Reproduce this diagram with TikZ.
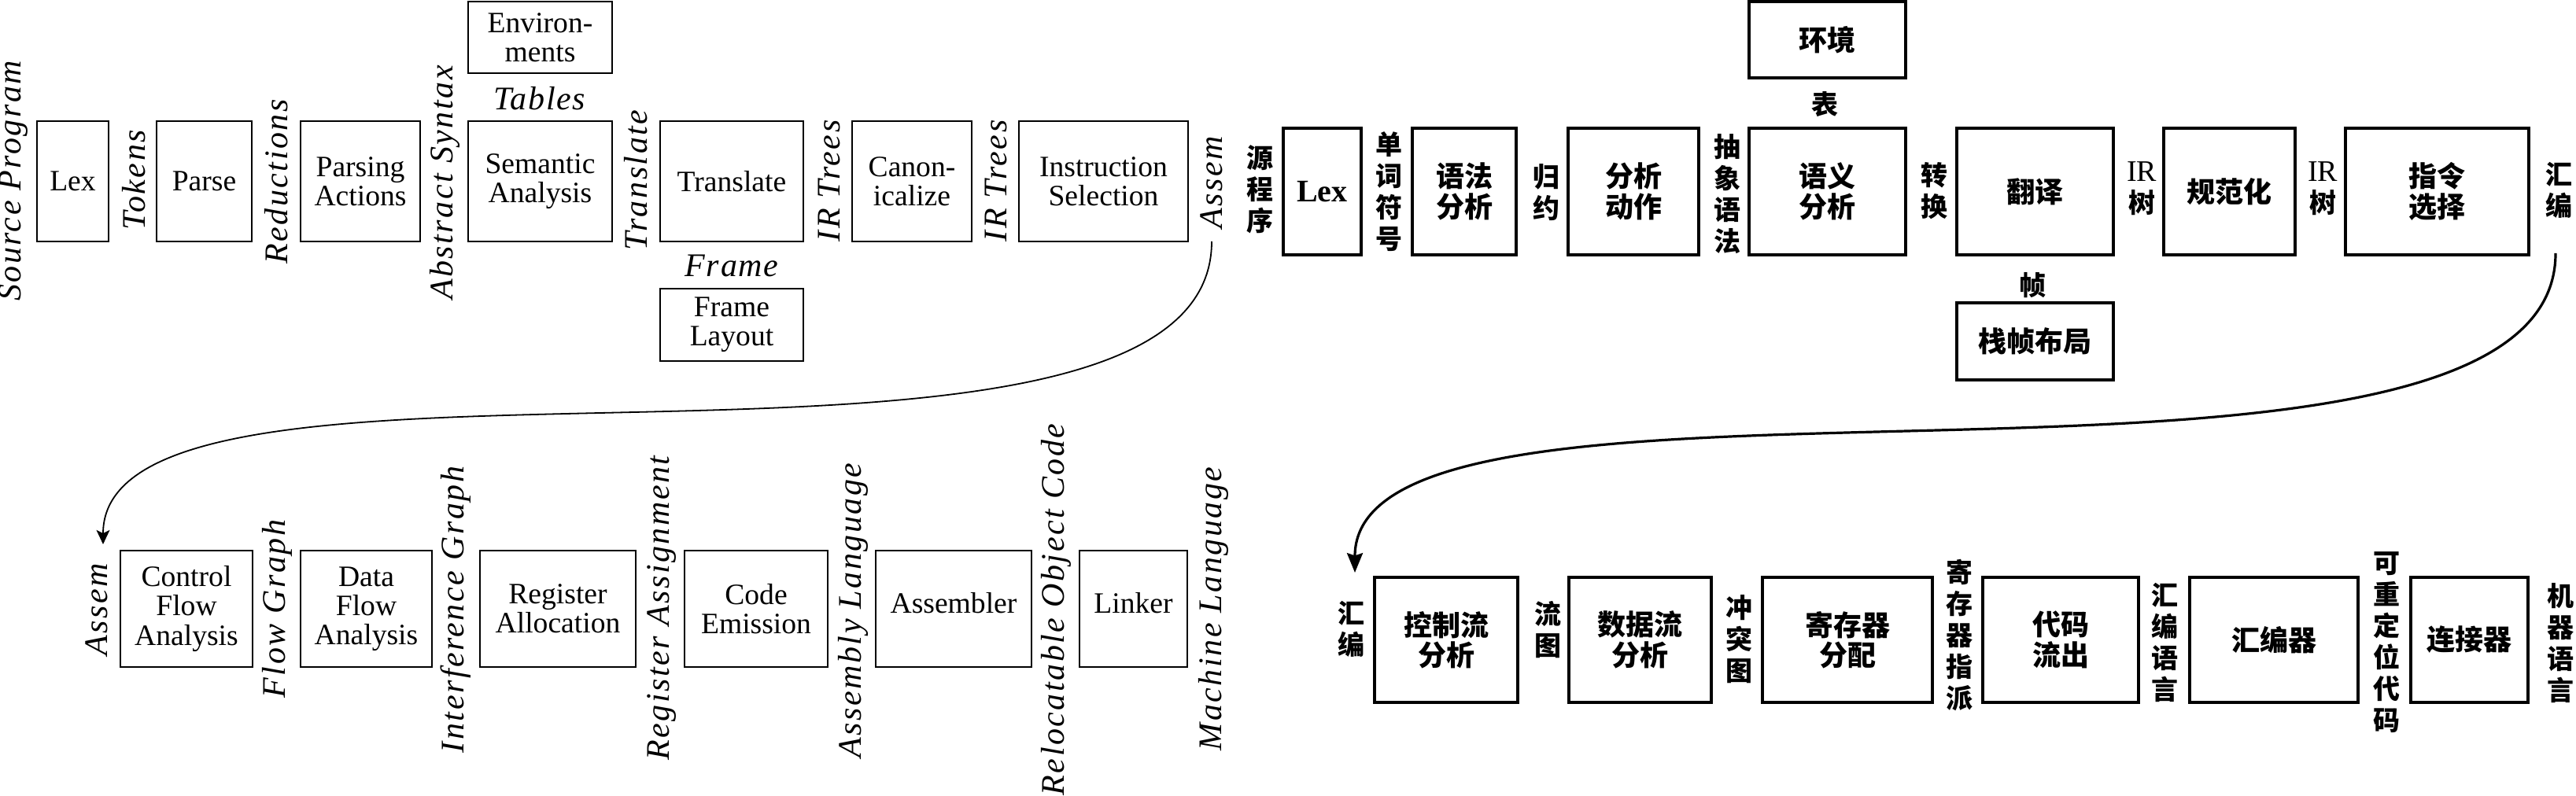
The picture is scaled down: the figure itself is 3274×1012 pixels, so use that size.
\documentclass[tikz,border=0pt]{standalone}
\usepackage{fontspec}
\setmainfont{Liberation Serif}
\newfontfamily\lblfont{Liberation Serif}[LetterSpace=6.0]
\newfontfamily\hlblfont{Liberation Serif}[LetterSpace=4.0]
\newfontfamily\cjk{Noto Sans CJK SC}
\usetikzlibrary{arrows.meta}
\begin{document}
\begin{tikzpicture}[x=0.25pt,y=-0.25pt,
  ebox/.style={draw, line width=0.45pt, align=center, inner sep=0pt, font=\fontsize{9.4}{9.3}\selectfont},
  cbox/.style={draw, line width=0.8pt, align=center, inner sep=0pt, font=\fontsize{9}{9.6}\selectfont\cjk\bfseries},
  elab/.style={rotate=90, inner sep=0pt, font=\fontsize{10.5}{12}\selectfont\lblfont\itshape},
  ehl/.style={inner sep=0pt, font=\fontsize{10.5}{12}\selectfont\hlblfont\itshape},
  clab/.style={inner sep=0pt, align=center, font=\fontsize{8.5}{10}\selectfont\cjk\bfseries},
  irtext/.style={font=\fontsize{9.5}{10}\selectfont\rmfamily},
  sz/.style 2 args={minimum width=#1*0.25pt, minimum height=#2*0.25pt},
  upshift/.style={text depth=4pt},
  ecurve/.style={line width=0.45pt, -{Stealth[length=4.5pt,width=4.2pt,inset=1pt]}},
  ccurve/.style={line width=0.8pt, -{Stealth[length=6.2pt,width=5pt,inset=0.8pt]}},
]
\useasboundingbox (0,0) rectangle (3274,1012);

% ---------------- English, row 1 ----------------
\node[ebox, sz={91}{153}]  (lex)   at (92.5,230.5)  {Lex};
\node[ebox, sz={121}{153}] (parse) at (259.5,230.5) {Parse};
\node[ebox, sz={152}{153}] (pact)  at (458,230.5)   {Parsing\\Actions};
\node[ebox, sz={183}{153}] (sem)   at (686.5,230.5) {Semantic\\Analysis};
\node[ebox, sz={183}{91}]  (env)   at (686.5,47.5)  {Environ-\\ments};
\node[ebox, sz={182}{153}] (trans) at (930,230.5)   {Translate};
\node[ebox, sz={182}{92}]  (flay)  at (930,413)     {Frame\\Layout};
\node[ebox, sz={152}{153}] (canon) at (1159,230.5)  {Canon-\\icalize};
\node[ebox, sz={215}{153}] (isel)  at (1402.5,230.5){Instruction\\Selection};

\node[elab] (lsrc)  at (17,230)   {Source Program};
\node[elab] (ltok)  at (170,229)  {Tokens};
\node[elab] (lred)  at (351,231)  {Reductions};
\node[elab] (labs)  at (565,232)  {Abstract Syntax};
\node[elab] (ltr)   at (808,229)  {Translate};
\node[elab] (lir1)  at (1054,230) {IR Trees};
\node[elab] (lir2)  at (1266,230) {IR Trees};
\node[elab] (lasmA) at (1540,232) {Assem};
\node[ehl]  (ltab)  at (686,125)  {Tables};
\node[ehl]  (lfrm)  at (930,338)  {Frame};

% ---------------- English, row 2 ----------------
\node[ebox, sz={168}{148}] (cfa)    at (237,774)    {Control\\Flow\\Analysis};
\node[ebox, sz={167}{148}] (dfa)    at (465.5,774)  {Data\\Flow\\Analysis};
\node[ebox, sz={198}{148}] (ralloc) at (709,774)    {Register\\Allocation};
\node[ebox, sz={182}{148}] (cemit)  at (961,774)    {Code\\Emission};
\node[ebox, upshift, sz={198}{148}] (asm)  at (1212,774)   {Assembler};
\node[ebox, upshift, sz={137}{148}] (link) at (1440.5,774) {Linker};

\node[elab] (lasmB) at (123,775)  {Assem};
\node[elab] (lfg)   at (352,774)  {Flow Graph};
\node[elab] (lig)   at (579,775)  {Interference Graph};
\node[elab] (lra)   at (841,773)  {Register Assignment};
\node[elab] (lal)   at (1084,776) {Assembly Language};
\node[elab] (loc)   at (1342,775) {Relocatable Object Code};
\node[elab] (lml)   at (1542,774) {Machine Language};

\coordinate (ea) at (1540,307);
\coordinate (eb) at (131,692);
\draw[ecurve] (ea) .. controls (1540,685) and (131,382) .. (eb);

% ---------------- Chinese, row 1 ----------------
\node[cbox, sz={99}{161}]  (clex)   at (1680.5,243.5) {\rmfamily\bfseries\fontsize{10}{12}\selectfont Lex};
\node[cbox, sz={132}{161}] (cparse) at (1861,243.5)   {语法\\分析};
\node[cbox, sz={166}{161}] (cpact)  at (2076,243.5)   {分析\\动作};
\node[cbox, sz={199}{161}] (csem)   at (2322.5,243.5) {语义\\分析};
\node[cbox, sz={199}{97}]  (cenv)   at (2322.5,50.5)  {环境};
\node[cbox, sz={199}{161}] (ctrans) at (2586.5,243.5) {翻译};
\node[cbox, sz={199}{98}]  (cflay)  at (2586.5,434)   {栈帧布局};
\node[cbox, sz={167}{161}] (ccanon) at (2833.5,243.5) {规范化};
\node[cbox, sz={233}{161}] (cisel)  at (3097.5,243.5) {指令\\选择};

\node[clab] (csrc) at (1601,241) {源\\程\\序};
\node[clab] (ctok) at (1765,244) {单\\词\\符\\号};
\node[clab] (cred) at (1965,245) {归\\约};
\node[clab] (cabs) at (2195,247) {抽\\象\\语\\法};
\node[clab] (ctr)  at (2458,243) {转\\换};
\node[clab] (cir1) at (2722,240) {{\fontsize{9.5}{10}\selectfont\rmfamily\mdseries IR}\\树};
\node[clab] (cir2) at (2952,240) {{\fontsize{9.5}{10}\selectfont\rmfamily\mdseries IR}\\树};
\node[clab] (casmA) at (3252,242) {汇\\编};
\node[clab] (ctab) at (2319,133) {表};
\node[clab] (cfrm) at (2583,363) {帧};

% ---------------- Chinese, row 2 ----------------
\node[cbox, sz={182}{159}] (ccfa)    at (1838,813.5)   {控制流\\分析};
\node[cbox, sz={181}{159}] (cdfa)    at (2084.5,813.5) {数据流\\分析};
\node[cbox, sz={216}{159}] (cralloc) at (2348,813.5)   {寄存器\\分配};
\node[cbox, sz={198}{159}] (ccemit)  at (2619,813.5)   {代码\\流出};
\node[cbox, sz={214}{159}] (casm)    at (2890,813.5)   {汇编器};
\node[cbox, sz={149}{159}] (clink)   at (3138.5,813.5) {连接器};

\node[clab] (casmB) at (1717,800) {汇\\编};
\node[clab] (cfg)   at (1967,801) {流\\图};
\node[clab] (cig)   at (2210,813) {冲\\突\\图};
\node[clab] (cra)   at (2490,808) {寄\\存\\器\\指\\派};
\node[clab] (cal)   at (2751,817) {汇\\编\\语\\言};
\node[clab] (coc)   at (3033,817) {可\\重\\定\\位\\代\\码};
\node[clab] (cml)   at (3254,818) {机\\器\\语\\言};

\coordinate (ca) at (3248,322);
\coordinate (cb) at (1722,728);
\draw[ccurve] (ca) .. controls (3248,708) and (1722,406) .. (cb);
\end{tikzpicture}
\end{document}
